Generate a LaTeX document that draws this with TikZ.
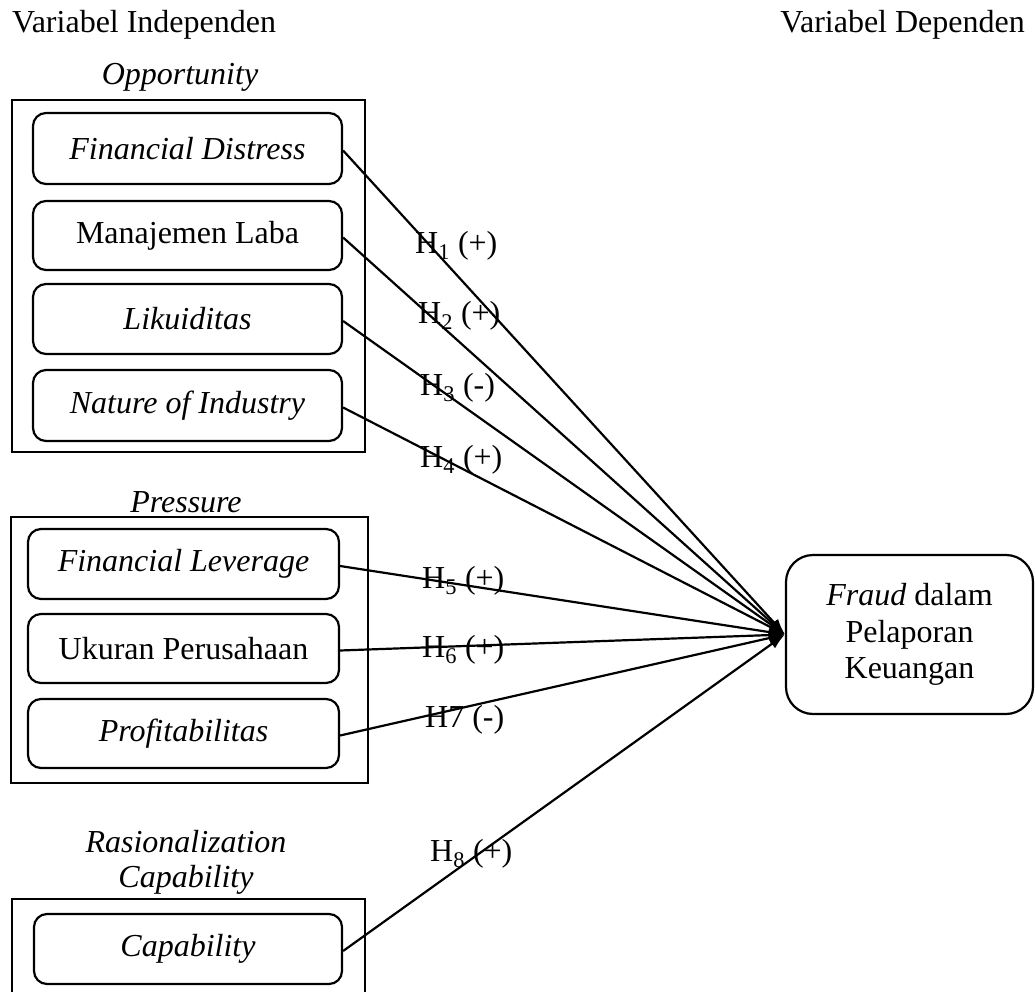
\documentclass[tikz,border=0pt]{standalone}
\usepackage{fontspec}
\setmainfont{Liberation Serif}
\usetikzlibrary{arrows.meta}
\tikzset{
  lw/.style={line width=2.2pt},
  txt/.style={font=\fontsize{32}{36.8}\selectfont},
  inner/.style={lw, draw, rounded corners=13pt, txt, inner sep=0pt},
  outer/.style={lw, draw, inner sep=0pt},
  hd/.style={txt, anchor=base, inner sep=0pt},
  hlab/.style={txt, anchor=base west, inner sep=0pt},
  conn/.style={lw, -{Latex[length=16pt,width=11pt]}},
}
\begin{document}
\begin{tikzpicture}[x=1pt,y=-1pt]
\useasboundingbox (0,0) rectangle (1035,992);
% headers
\node[txt, anchor=base west, inner sep=0pt] (vi) at (12,33) {Variabel Independen};
\node[txt, anchor=base east, inner sep=0pt] (vd) at (1025,33) {Variabel Dependen};
% group labels
\node[hd] (opp) at (180,85) {\textit{Opportunity}};
\node[hd] (pre) at (186,512) {\textit{Pressure}};
\node[hd] (ras) at (186,852) {\textit{Rasionalization}};
\node[hd] (capl) at (186,887) {\textit{Capability}};
% outer boxes
\node[outer, minimum width=353pt, minimum height=352pt] (o1) at (188.5,276) {};
\node[outer, minimum width=357pt, minimum height=266pt] (o2) at (189.5,650) {};
\draw[lw] (12,994) -- (12,899) -- (365,899) -- (365,994);
% inner boxes
\node[inner, minimum width=309pt, minimum height=71pt] (fd) at (187.5,148.5) {\textit{Financial Distress}};
\node[inner, minimum width=309pt, minimum height=69pt] (ml) at (187.5,235.5) {Manajemen Laba};
\node[inner, minimum width=309pt, minimum height=70pt] (lk) at (187.5,319) {\textit{Likuiditas}};
\node[inner, minimum width=309pt, minimum height=71pt] (ni) at (187.5,405.5) {\textit{Nature of Industry}};
\node[inner, minimum width=311pt, minimum height=70pt] (fl) at (183.5,564) {\textit{Financial Leverage}};
\node[inner, minimum width=311pt, minimum height=69pt] (up) at (183.5,648.5) {Ukuran Perusahaan};
\node[inner, minimum width=311pt, minimum height=69pt] (pf) at (183.5,733.5) {\textit{Profitabilitas}};
\node[inner, minimum width=308pt, minimum height=70pt] (cp) at (188,949) {\textit{Capability}};
% dependent
\node[lw, draw, rounded corners=27pt, txt, align=center, minimum width=247pt, minimum height=159pt, inner sep=0pt] (fr) at (909.5,634.5) {\textit{Fraud} dalam\\Pelaporan\\Keuangan};
% connectors
\foreach \n in {fd,ml,lk,ni,fl,up,pf,cp}{
  \draw[conn] ([yshift=-2pt]\n.east) -- (fr.west);
}
% labels
\node[hlab] (h1) at (415,253) {H\textsubscript{1} (+)};
\node[hlab] (h2) at (418,323) {H\textsubscript{2} (+)};
\node[hlab] (h3) at (420,395) {H\textsubscript{3} (-)};
\node[hlab] (h4) at (420,467) {H\textsubscript{4} (+)};
\node[hlab] (h5) at (422,588) {H\textsubscript{5} (+)};
\node[hlab] (h6) at (422,657) {H\textsubscript{6} (+)};
\node[hlab] (h7) at (425,727) {H7 (-)};
\node[hlab] (h8) at (430,861) {H\textsubscript{8} (+)};
\end{tikzpicture}
\end{document}
